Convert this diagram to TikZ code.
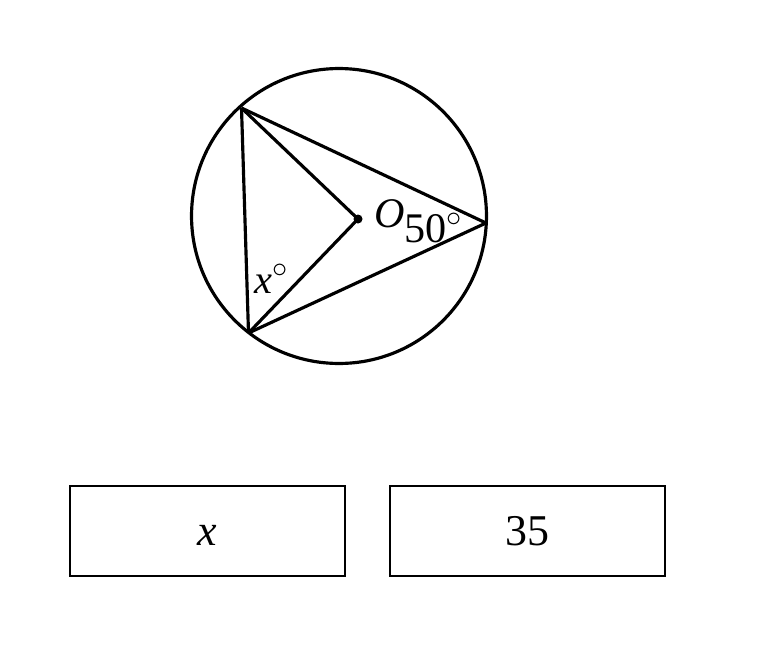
\documentclass[tikz,border=0pt]{standalone}
\usepackage{fontspec}
\setmainfont{Liberation Serif}
\tikzset{
  ansbox/.style={draw, line width=1.4pt, minimum width=5.5cm, minimum height=1.8cm, inner sep=0pt, text height=17pt, text depth=0pt, font=\fontsize{25}{28}\selectfont},
  lbl/.style={inner sep=0pt, anchor=base west},
  edge/.style={line width=1.8pt}
}
\begin{document}
\begin{tikzpicture}[x=0.02cm, y=-0.02cm]
\useasboundingbox (0,0) rectangle (784,646);

\coordinate (ctr) at (339,216);
\coordinate (A) at (241.5,108);
\coordinate (B) at (248.5,333);
\coordinate (C) at (486,223);
\coordinate (O) at (358,219);

\draw[edge] (ctr) circle [radius=2.95cm];
\draw[edge] (A) -- (B);
\draw[edge] (A) -- (C);
\draw[edge] (B) -- (C);
\draw[edge] (A) -- (O);
\draw[edge] (B) -- (O);
\fill (O) circle [radius=0.09cm];

\node [lbl, font=\fontsize{24}{28}\selectfont] (labO) at (374,227) {\textit{O}};
\node [lbl, font=\fontsize{24}{28}\selectfont] (lab50) at (404,242) {50$^{\circ}$};
\node [lbl, font=\fontsize{23}{26}\selectfont] (labx) at (254,293) {\textit{x}$^{\circ}$};

\node [ansbox] (boxx) at (207.7,530.8) {\textit{x}};
\node [ansbox] (boxval) at (527.7,530.8) {35};
\end{tikzpicture}
\end{document}
